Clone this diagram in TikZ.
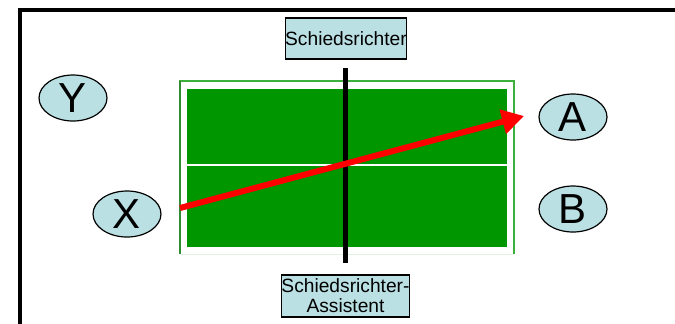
\documentclass[tikz,border=0pt]{standalone}
\usepackage{fontspec}
\setmainfont{Liberation Sans}
\usetikzlibrary{shapes.geometric,arrows.meta}
\definecolor{boxblue}{RGB}{186,224,228}
\definecolor{tablegreen}{RGB}{0,150,0}
\definecolor{lineg}{RGB}{60,175,60}
\definecolor{faintg}{RGB}{225,242,225}
\tikzset{
  player/.style={ellipse,draw=black,line width=0.6pt,fill=boxblue,minimum width=34pt,minimum height=23pt,inner sep=0pt,font=\fontsize{21}{21}\selectfont},
  refbox/.style={rectangle,draw=black,line width=0.6pt,fill=boxblue,inner sep=0pt,align=center,font=\fontsize{9.6}{10}\selectfont},
}
\begin{document}
\begin{tikzpicture}[x=0.5pt,y=-0.5pt]
\useasboundingbox (0,0) rectangle (675,323);
% frame
\draw[line width=2pt] (20,340) -- (20,10) -- (690,10);
% table outline
\draw[faintg,line width=0.5pt] (180,254) -- (514,254);
\draw[lineg,line width=0.6pt] (180,254) -- (180,81) -- (514,81) -- (514,254);
\draw[lineg!80!black,line width=1pt] (180,81) -- (180,254);
% table surface
\fill[tablegreen] (187,89) rectangle (507,247);
\draw[white,line width=1.1pt] (181,165) -- (507,165);
% net
\draw[black,line width=2.5pt] (345,68) -- (345,263);
% players
\node[player] (Y) at (73,98) {Y};
\node[player] (X) at (127,214) {X};
\node[player] (A) at (573,117) {A};
\node[player] (B) at (573,209) {B};
% umpires
\node[refbox,minimum width=59pt,minimum height=20.5pt] (S) at (346,38.5) {Schiedsrichter};
\node[refbox,minimum width=59.5pt,minimum height=21pt] (SA) at (345.5,296) {Schiedsrichter-\\Assistent};
% ball path
\coordinate (start) at (180,208);
\coordinate (tip) at (524,116);
\draw[red,line width=3pt,-{Triangle[length=11pt,width=12pt]}] (start) -- (tip);
\end{tikzpicture}
\end{document}
